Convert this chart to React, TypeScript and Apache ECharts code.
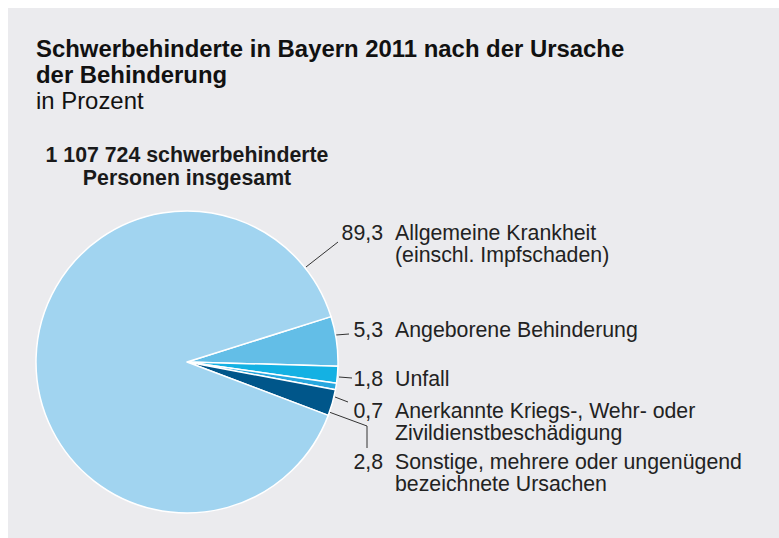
import React, { useEffect, useRef } from "react";
import * as echarts from "echarts";

const categories = [
  "Angeborene Behinderung",
  "Unfall",
  "Anerkannte Kriegs-, Wehr- oder\nZivildienstbeschädigung",
  "Sonstige, mehrere oder ungenügend\nbezeichnete Ursachen",
  "Allgemeine Krankheit\n(einschl. Impfschaden)",
];
const values = [5.3, 1.8, 0.7, 2.8, 89.3];
const colors = ["#63bee7", "#14b1e3", "#27a7de", "#00568a", "#a1d4f0"];

const titleLines = ["Schwerbehinderte in Bayern 2011 nach der Ursache", "der Behinderung"];
const subtitle = "in Prozent";
const totalLines = ["1 107 724 schwerbehinderte", "Personen insgesamt"];

// label placement (layout only)
const labelPos = [
  { y: 318.5, line: [[336, 335], [349, 334]] },
  { y: 367.5, line: [[339, 377], [352, 378]] },
  { y: 399.5, line: [[335, 397], [348, 402]] },
  { y: 450.5, line: [[329, 412], [367, 426], [367, 448]] },
  { y: 221.5, line: [[306, 267], [338, 242]] },
];

const FONT = "'Liberation Sans', Arial, Helvetica, sans-serif";
const LABEL_FS = 21.3;
const LABEL_LH = 22;

export default function App() {
  const ref = useRef<HTMLDivElement>(null);
  useEffect(() => {
    const chart = echarts.init(ref.current!, null, { renderer: "svg" });
    const pieData = values.map((v, i) => ({ value: v, name: categories[i], itemStyle: { color: colors[i] } }));
    chart.setOption({
      animation: false,
      backgroundColor: "#ffffff",
      graphic: [
        { type: "rect", z: -10, shape: { x: 8, y: 8, width: 771, height: 530 }, style: { fill: "#ebebee" } },
        {
          type: "text", x: 36, y: 35.2,
          style: { text: titleLines.join("\n"), font: `bold 23.9px ${FONT}`, lineHeight: 26, fill: "#111", verticalAlign: "top" },
        },
        {
          type: "text", x: 36, y: 90.7,
          style: { text: subtitle, font: `23.9px ${FONT}`, lineHeight: 20, fill: "#111", verticalAlign: "top" },
        },
        {
          type: "text", x: 187, y: 143.6,
          style: { text: totalLines.join("\n"), font: `bold 21.3px ${FONT}`, lineHeight: 23, fill: "#1a1a1a", align: "center", verticalAlign: "top" },
        },
      ],
      series: [
        {
          type: "pie",
          center: [187, 362],
          radius: 151,
          startAngle: 17.5,
          clockwise: true,
          avoidLabelOverlap: false,
          emphasis: { disabled: true },
          itemStyle: { borderColor: "#ffffff", borderWidth: 1.5 },
          data: pieData,
          label: {
            show: true,
            formatter: "{b}",
            fontSize: LABEL_FS,
            lineHeight: LABEL_LH,
            fontFamily: FONT,
            color: "#222",
            align: "left",
          },
          labelLine: { show: true, lineStyle: { color: "#333", width: 1 } },
          labelLayout: (params: any) => {
            const L = labelPos[params.dataIndex];
            return { x: 395, y: L.y, align: "left", verticalAlign: "top", labelLinePoints: L.line };
          },
        },
        {
          type: "pie",
          center: [187, 362],
          radius: 151,
          startAngle: 17.5,
          clockwise: true,
          silent: true,
          avoidLabelOverlap: false,
          emphasis: { disabled: true },
          z: 1,
          itemStyle: { color: "rgba(0,0,0,0)", borderWidth: 0 },
          data: values.map((v, i) => ({ value: v, name: categories[i] })),
          label: {
            show: true,
            formatter: (p: any) => Number(p.value).toFixed(1).replace(".", ","),
            fontSize: LABEL_FS,
            lineHeight: LABEL_LH,
            fontFamily: FONT,
            color: "#222",
            align: "right",
          },
          labelLine: { show: false },
          labelLayout: (params: any) => {
            const L = labelPos[params.dataIndex];
            return { x: 383, y: L.y, align: "right", verticalAlign: "top" };
          },
        },
      ],
    });
    return () => chart.dispose();
  }, []);
  return <div ref={ref} style={{ position: "fixed", left: 0, top: 0, width: 779, height: 538 }} />;
}
